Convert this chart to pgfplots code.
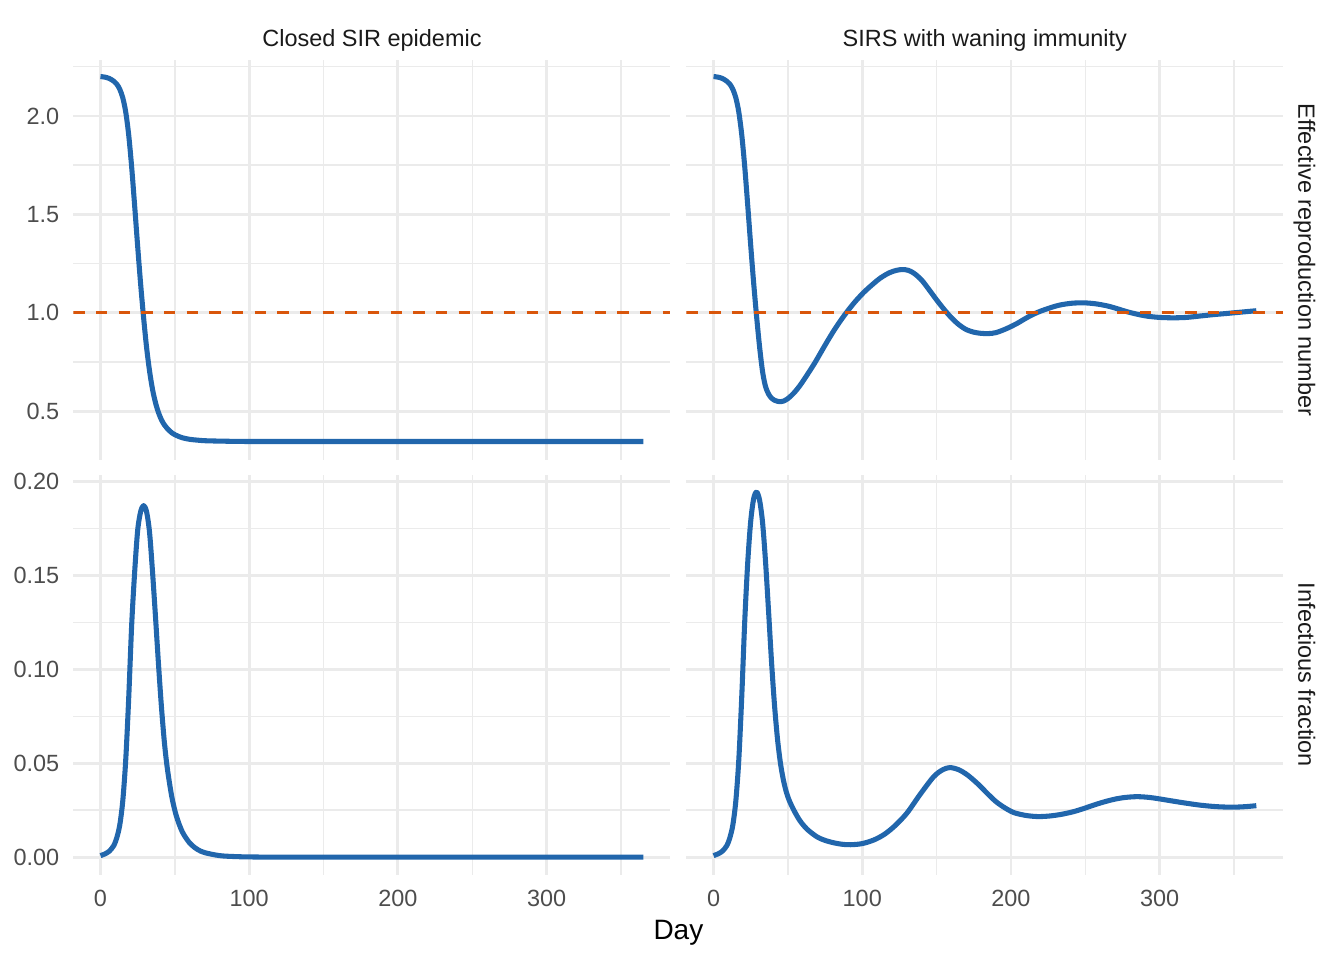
\documentclass[border=0pt]{standalone}
\usepackage{fontspec}
\setmainfont{Liberation Sans}
\usepackage{pgfplots}
\pgfplotsset{compat=1.18}
\definecolor{lineblue}{HTML}{2166AC}
\definecolor{refred}{HTML}{D9560B}
\definecolor{gridgray}{HTML}{EBEBEB}
\definecolor{ticktext}{HTML}{4D4D4D}
\definecolor{striptext}{HTML}{1A1A1A}
\pgfplotsset{
  panel/.style={
    scale only axis, width=223.9pt, height=150pt, anchor=south west,
    xmin=-18.25, xmax=383.25,
    xtick={0,100,200,300}, minor xtick={50,150,250,350},
    grid=both,
    major grid style={draw=gridgray, line width=1.07pt},
    minor grid style={draw=gridgray, line width=0.55pt},
    axis line style={draw=none},
    tick style={draw=none},
    /pgf/number format/assume math mode=true,
    ticklabel style={font=\fontsize{8.8}{10}\selectfont, text=ticktext, inner sep=0pt, outer sep=0pt},
    yticklabel style={anchor=east, xshift=-5.3pt},
    xticklabel style={anchor=north, yshift=-5.6pt},
  },
  toprow/.style={ymin=0.253, ymax=2.284, ytick={0.5,1,1.5,2}, minor ytick={0.75,1.25,1.75,2.25},
    yticklabel style={/pgf/number format/.cd, fixed, fixed zerofill, precision=1},
    xticklabels={}},
  bottomrow/.style={ymin=-0.0095, ymax=0.2036, ytick={0,0.05,0.1,0.15,0.2},
    minor ytick={0.025,0.075,0.125,0.175},
    yticklabel style={/pgf/number format/.cd, fixed, fixed zerofill, precision=2}},
  rightcol/.style={yticklabels={}},
  curve/.style={draw=lineblue, line width=1.9pt, line join=round, smooth, tension=0.5, no marks},
  refline/.style={draw=refred, line width=1.1pt, dash pattern=on 4.3pt off 4.2pt, no marks},
}
\begin{document}
\begin{tikzpicture}
% ---------------- top left: closed SIR, Rt
\begin{axis}[panel, toprow, at={(27.5pt,187.5pt)}]
\addplot[curve] table {
x y
0 2.200
3 2.197
6 2.190
9 2.176
11 2.161
13 2.135
15 2.092
17 2.019
19 1.902
21 1.738
23 1.542
25 1.339
27 1.147
29 0.976
31 0.825
33 0.705
35 0.612
37 0.544
39 0.494
41 0.457
43 0.431
45 0.412
48 0.391
51 0.378
55 0.366
60 0.358
65 0.354
70 0.351
80 0.349
100 0.347
150 0.347
200 0.347
250 0.347
300 0.347
365 0.347
};
\addplot[refline] coordinates {(-18.25,1) (383.25,1)};
\end{axis}
% ---------------- top right: SIRS, Rt
\begin{axis}[panel, toprow, rightcol, at={(257.4pt,187.5pt)}]
\addplot[curve] table {
x y
0 2.200
3 2.197
6 2.190
9 2.176
11 2.161
13 2.135
15 2.092
17 2.019
19 1.902
21 1.740
23 1.545
25 1.342
27 1.150
29 0.978
31 0.825
33 0.700
35 0.625
37 0.588
39 0.567
41 0.556
43 0.551
45 0.549
47 0.552
50 0.565
54 0.593
58 0.630
63 0.686
68 0.745
72 0.797
76 0.849
81 0.911
86 0.967
90 1.008
95 1.055
101 1.104
107 1.145
112 1.176
118 1.203
123 1.216
127 1.220
131 1.216
135 1.200
140 1.166
145 1.117
150 1.066
155 1.018
160 0.975
165 0.940
170 0.915
175 0.902
180 0.896
185 0.895
190 0.900
197 0.920
204 0.946
211 0.977
218 1.003
226 1.025
233 1.040
241 1.049
249 1.051
257 1.046
265 1.035
272 1.020
278 1.006
285 0.993
292 0.983
300 0.977
309 0.975
318 0.977
327 0.984
336 0.991
345 0.997
355 1.004
365 1.011
};
\addplot[refline] coordinates {(-18.25,1) (383.25,1)};
\end{axis}
% ---------------- bottom left: closed SIR, I
\begin{axis}[panel, bottomrow, at={(27.5pt,31.9pt)}]
\addplot[curve] table {
x y
0 0.0008
3 0.0017
6 0.0032
9 0.0062
11 0.0104
13 0.0172
15 0.0300
17 0.0520
19 0.0850
21 0.1240
23 0.1520
25 0.1740
27 0.1840
29 0.1873
31 0.1840
33 0.1730
35 0.1520
37 0.1280
39 0.1030
41 0.0800
43 0.0610
45 0.0470
48 0.0320
51 0.0220
55 0.0135
60 0.0075
65 0.0042
70 0.0024
80 0.0008
90 0.0003
100 0.0001
120 0.0000
200 0.0000
300 0.0000
365 0.0000
};
\end{axis}
% ---------------- bottom right: SIRS, I
\begin{axis}[panel, bottomrow, rightcol, at={(257.4pt,31.9pt)}]
\addplot[curve] table {
x y
0 0.0008
3 0.0017
6 0.0032
9 0.0062
11 0.0104
13 0.0172
15 0.0300
17 0.0520
19 0.0860
21 0.1260
23 0.1570
25 0.1790
27 0.1910
29 0.1945
31 0.1900
33 0.1780
35 0.1570
37 0.1310
39 0.1040
41 0.0810
43 0.0630
45 0.0500
47 0.0410
49 0.0345
51 0.0300
54 0.0250
58 0.0195
63 0.0148
70 0.0106
77 0.0084
85 0.0070
92 0.0066
100 0.0072
108 0.0092
115 0.0122
122 0.0167
130 0.0234
139 0.0335
148 0.0428
154 0.0465
159 0.0477
165 0.0465
171 0.0436
178 0.0388
184 0.0340
190 0.0295
196 0.0262
202 0.0237
210 0.0222
218 0.0216
226 0.0219
234 0.0228
242 0.0242
249 0.0259
256 0.0278
263 0.0295
270 0.0309
277 0.0318
285 0.0322
293 0.0318
300 0.0310
310 0.0297
318 0.0287
327 0.0277
336 0.0270
343 0.0267
350 0.0266
358 0.0269
365 0.0274
};
\end{axis}
% ---------------- strips and axis title
\node[anchor=base, inner sep=0pt, font=\fontsize{8.8}{10}\selectfont, text=striptext] at (139.5pt,342.5pt) {Closed SIR epidemic};
\node[anchor=base, inner sep=0pt, font=\fontsize{8.8}{10}\selectfont, text=striptext] at (369.3pt,342.5pt) {SIRS with waning immunity};
\node[rotate=-90, anchor=base, inner sep=0pt, font=\fontsize{8.8}{10}\selectfont, text=striptext] at (486.9pt,262.5pt) {Effective reproduction number};
\node[rotate=-90, anchor=base, inner sep=0pt, font=\fontsize{8.8}{10}\selectfont, text=striptext] at (486.9pt,106.9pt) {Infectious fraction};
\node[anchor=base, inner sep=0pt, font=\fontsize{10.5}{12}\selectfont, text=black] at (254.4pt,7.76pt) {Day};
\pgfresetboundingbox
\path[use as bounding box] (0,0) rectangle (504pt,360pt);
\end{tikzpicture}
\end{document}
